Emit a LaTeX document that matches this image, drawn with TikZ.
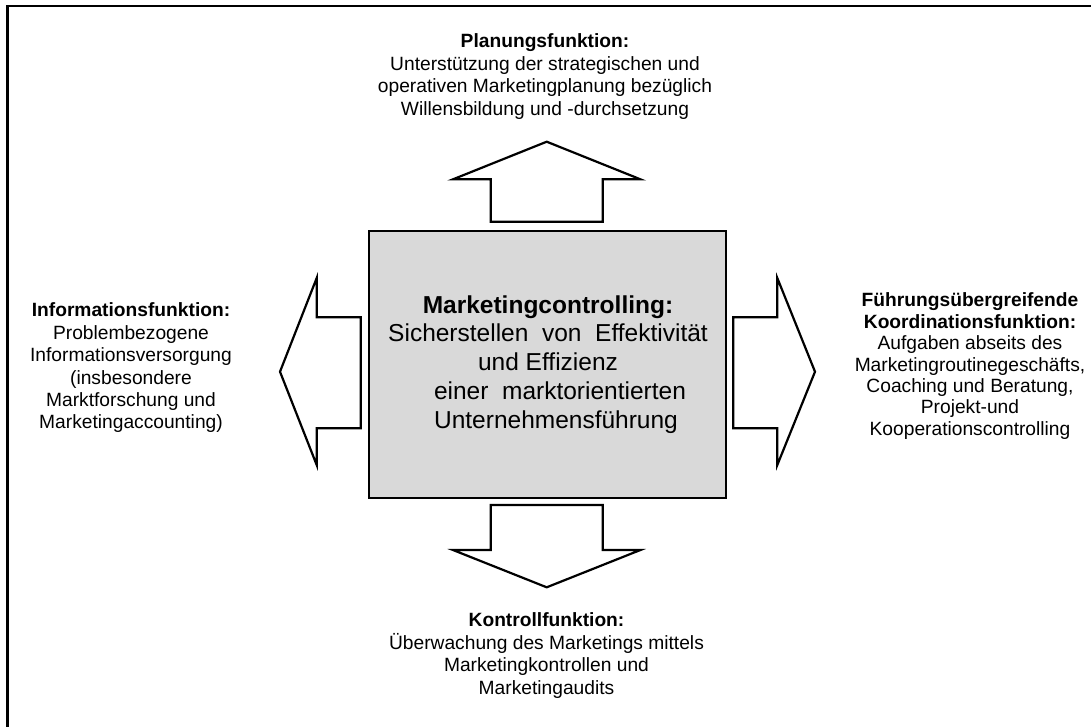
\documentclass[tikz,border=0pt]{standalone}
\usepackage{fontspec}
\setmainfont{Liberation Sans}
\definecolor{boxgray}{RGB}{217,217,217}
\begin{document}
\begin{tikzpicture}[x=1pt,y=-1pt,
  frameline/.style={line width=2.4pt, line cap=rect},
  blockarrow/.style={draw=black, line width=2.2pt, fill=white, line join=miter},
  corebox/.style={draw=black, fill=boxgray, line width=2pt, inner sep=0pt,
    minimum width=357pt, minimum height=267pt, anchor=north west},
  fnlabel/.style={align=center, inner sep=0pt, anchor=north,
    font=\fontsize{19.2}{22.4}\selectfont},
  corelabel/.style={align=center, inner sep=0pt, anchor=north,
    font=\fontsize{24.5}{28.75}\selectfont},
]
\useasboundingbox (0,0) rectangle (1091,726);

% outer frame (left and top edges)
\draw[frameline] (7.5,726) -- (7.5,6) -- (1091,6);

% central box
\node[corebox] (core) at (368,230) {};

% block arrows pointing away from the box
\draw[blockarrow] (546.7,141.7) -- (640.4,179.3) -- (602.7,179.3) -- (602.7,221.7)
  -- (490.7,221.7) -- (490.7,179.3) -- (453,179.3) -- cycle;
\draw[blockarrow] (490.7,505) -- (602.7,505) -- (602.7,550) -- (640.4,550)
  -- (546.7,587.3) -- (453,550) -- (490.7,550) -- cycle;
\draw[blockarrow] (280,371.7) -- (316.7,278) -- (316.7,317.3) -- (360.7,317.3)
  -- (360.7,428.3) -- (316.7,428.3) -- (316.7,465) -- cycle;
\draw[blockarrow] (733.3,317.3) -- (777.3,317.3) -- (777.3,278) -- (815,371.7)
  -- (777.3,465) -- (777.3,428.3) -- (733.3,428.3) -- cycle;

% texts
\node[corelabel] (coretext) at (548,295.1)
  {\textbf{Marketingcontrolling:}\\
   Sicherstellen\ \ von\ \ Effektivität\\
   und Effizienz\\
   \hspace*{24pt}einer\ \ marktorientierten\\
   \hspace*{16pt}Unternehmensführung};

\node[fnlabel] (plan) at (545,33.7)
  {\textbf{Planungsfunktion:}\\
   Unterstützung der strategischen und\\
   operativen Marketingplanung bezüglich\\
   Willensbildung und -durchsetzung};

\node[fnlabel] (info) at (131,302.7)
  {\textbf{Informationsfunktion:}\\
   Problembezogene\\
   Informationsversorgung\\
   (insbesondere\\
   Marktforschung und\\
   Marketingaccounting)};

\node[fnlabel, font=\fontsize{19.2}{21.4}\selectfont] (koord) at (970,292.7)
  {\textbf{Führungsübergreifende}\\
   \textbf{Koordinationsfunktion:}\\
   Aufgaben abseits des\\
   Marketingroutinegeschäfts,\\
   Coaching und Beratung,\\
   Projekt-und\\
   Kooperationscontrolling};

\node[fnlabel] (kontr) at (546.5,612.7)
  {\textbf{Kontrollfunktion:}\\
   Überwachung des Marketings mittels\\
   Marketingkontrollen und\\
   Marketingaudits};
\end{tikzpicture}
\end{document}
